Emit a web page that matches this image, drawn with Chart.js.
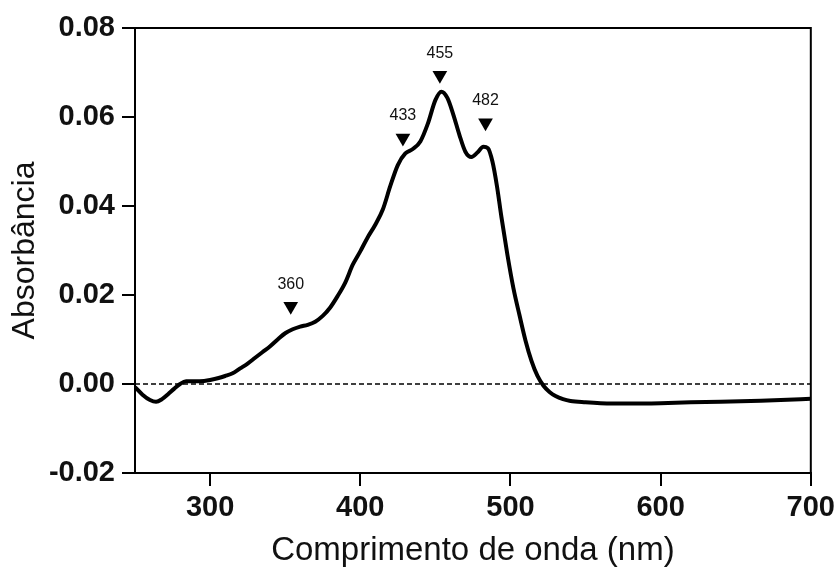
<!DOCTYPE html>
<html>
<head>
<meta charset="utf-8">
<script src="https://cdn.jsdelivr.net/npm/chart.js@4/dist/chart.umd.min.js"></script>
<style>
  html, body { margin: 0; padding: 0; background: #fff; }
  #wrap { width: 840px; height: 567px; position: relative; }
</style>
</head>
<body>
<div id="wrap"><canvas id="c"></canvas></div>
<script>
// ---- data ----
const wavelength = [250,255,260,264,268,272,276,280,284,290,296,300,305,310,315,320,325,330,335,340,345,350,355,360,365,370,375,380,385,390,395,400,405,410,415,420,425,430,435,440,445,450,454,458,462,466,470,474,478,482,485,488,491,494,498,502,506,510,514,518,522,526,530,535,540,550,560,580,600,620,640,660,680,700];
const absorbance = [-0.0007,-0.0024,-0.0036,-0.0040,-0.0034,-0.0023,-0.0011,0.0000,0.0006,0.0006,0.0007,0.0009,0.0013,0.0018,0.0024,0.0035,0.0046,0.0059,0.0072,0.0085,0.0100,0.0114,0.0123,0.0129,0.0133,0.0140,0.0153,0.0172,0.0198,0.0228,0.0268,0.0298,0.0330,0.0358,0.0392,0.0445,0.0492,0.0518,0.0528,0.0545,0.0585,0.0638,0.0657,0.0643,0.0605,0.0560,0.0522,0.0510,0.0520,0.0533,0.0530,0.0500,0.0445,0.0375,0.0290,0.0215,0.0155,0.0098,0.0052,0.0018,-0.0004,-0.0018,-0.0027,-0.0034,-0.0038,-0.0041,-0.0043,-0.0044,-0.0043,-0.0041,-0.0040,-0.0038,-0.0036,-0.0033];
const markerLabels = ['360','433','455','482'];
const markerX = [353.7, 428.4, 453.0, 483.4];
const markerY = [0.0175, 0.0553, 0.0694, 0.0587];
const baselineX = [250, 700];
const baselineY = [0, 0];
const xTicks = [300, 400, 500, 600, 700];
const yTicks = [-0.02, 0.00, 0.02, 0.04, 0.06, 0.08];

const FONT = "'Liberation Sans', Arial, sans-serif";

const spectrum = wavelength.map((w, i) => ({x: w, y: absorbance[i]}));
const markers = markerX.map((w, i) => ({x: w, y: markerY[i], label: markerLabels[i]}));
const baseline = baselineX.map((w, i) => ({x: w, y: baselineY[i]}));

const markerLabelPlugin = {
  id: 'markerLabels',
  afterDatasetsDraw(chart) {
    const meta = chart.getDatasetMeta(0);
    const ctx = chart.ctx;
    ctx.save();
    ctx.font = "16px " + FONT;
    ctx.fillStyle = '#111';
    ctx.textAlign = 'center';
    ctx.textBaseline = 'middle';
    meta.data.forEach((el, i) => {
      ctx.fillText(markers[i].label, el.x, el.y - 22);
    });
    ctx.restore();
  }
};

const framePlugin = {
  id: 'frame',
  afterDraw(chart) {
    const {ctx, chartArea: a} = chart;
    ctx.save();
    ctx.strokeStyle = '#000';
    ctx.lineWidth = 2;
    ctx.beginPath();
    ctx.moveTo(a.left, a.top);
    ctx.lineTo(a.right, a.top);
    ctx.lineTo(a.right, a.bottom);
    ctx.stroke();
    ctx.restore();
  }
};

new Chart(document.getElementById('c'), {
  type: 'scatter',
  data: {
    datasets: [
      {
        data: markers,
        pointStyle: 'triangle',
        rotation: 180,
        pointRadius: 8.5,
        pointBackgroundColor: '#000',
        pointBorderColor: '#000',
        pointBorderWidth: 0,
        showLine: false
      },
      {
        data: spectrum,
        showLine: true,
        borderColor: '#000',
        borderWidth: 4,
        pointRadius: 0,
        tension: 0.4,
        cubicInterpolationMode: 'monotone',
        fill: false
      },
      {
        data: baseline,
        showLine: true,
        borderColor: '#000',
        borderWidth: 1.5,
        borderDash: [5, 3],
        pointRadius: 0,
        fill: false
      }
    ]
  },
  options: {
    responsive: true,
    maintainAspectRatio: false,
    animation: false,
    devicePixelRatio: 1,
    layout: { padding: { left: 0, top: 28, right: 29, bottom: 0 } },
    plugins: { legend: { display: false }, tooltip: { enabled: false } },
    scales: {
      x: {
        type: 'linear',
        min: 250, max: 700,
        afterFit(scale) { scale.height = 94; },
        afterBuildTicks(scale) { scale.ticks = xTicks.map(v => ({value: v})); },
        ticks: {
          padding: 5,
          color: '#111',
          font: { family: FONT, size: 29, weight: 'bold' },
          callback: v => String(v)
        },
        grid: { drawOnChartArea: false, drawTicks: true, tickLength: 13, color: '#000', lineWidth: 2 },
        border: { display: true, color: '#000', width: 2 },
        title: {
          display: true,
          text: 'Comprimento de onda (nm)',
          color: '#111',
          font: { family: FONT, size: 33, lineHeight: 1 },
          padding: { top: 0, bottom: 0 }
        }
      },
      y: {
        type: 'linear',
        min: -0.02, max: 0.08,
        afterFit(scale) { scale.width = 135; },
        afterBuildTicks(scale) { scale.ticks = yTicks.map(v => ({value: v})); },
        ticks: {
          padding: 7,
          color: '#111',
          font: { family: FONT, size: 29, weight: 'bold' },
          callback: v => Number(v).toFixed(2)
        },
        grid: { drawOnChartArea: false, drawTicks: true, tickLength: 13, color: '#000', lineWidth: 2 },
        border: { display: true, color: '#000', width: 2 },
        title: {
          display: true,
          text: 'Absorbância',
          color: '#111',
          font: { family: FONT, size: 32, lineHeight: 1 },
          padding: { top: 9, bottom: 0 }
        }
      }
    }
  },
  plugins: [markerLabelPlugin, framePlugin]
});
</script>
</body>
</html>
